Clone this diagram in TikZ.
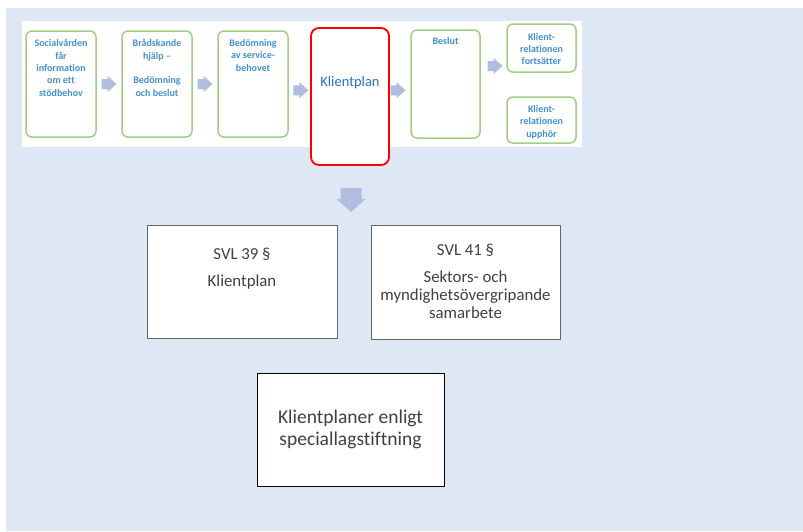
\documentclass[tikz,border=0pt]{standalone}
\usepackage{fontspec}
\setmainfont{Carlito}[Ligatures=NoCommon]
\usetikzlibrary{calc}
\definecolor{bgblue}{RGB}{222,232,244}
\definecolor{gborder}{RGB}{160,206,130}
\definecolor{stext}{RGB}{68,144,210}
\definecolor{ktext}{RGB}{40,116,190}
\definecolor{afill}{RGB}{176,188,224}
\definecolor{dtext}{RGB}{64,64,64}
\definecolor{sborder}{RGB}{100,104,110}
\tikzset{
  gbox/.style={draw=gborder, line width=1.5pt, rounded corners=6pt, fill=white, minimum width=70pt, inner sep=0pt},
  redbox/.style={draw=red, line width=1.8pt, rounded corners=8pt, fill=white, minimum width=78pt, minimum height=137pt, inner sep=0pt},
  smalltxt/.style={text=stext, font=\bfseries\fontsize{10}{12.4}\selectfont, align=center, inner sep=0pt},
  lawbox/.style={draw=sborder, line width=0.9pt, fill=white, inner sep=0pt},
  lawtxt/.style={text=dtext, font=\fontsize{16.8}{18}\selectfont, align=center, inner sep=0pt},
  rarrow/.pic={\fill[afill] (-7.5,-5) -- (-1.5,-5) -- (-1.5,-8) -- (7.5,0) -- (-1.5,8) -- (-1.5,5) -- (-7.5,5) -- cycle;},
  darrow/.pic={\fill[afill] (-10.5,-12) -- (10.5,-12) -- (10.5,-1) -- (14.5,-1) -- (0,12) -- (-14.5,-1) -- (-10.5,-1) -- cycle;}
}
\begin{document}
\begin{tikzpicture}[x=1pt,y=-1pt]
\useasboundingbox (0,0) rectangle (803,531);
\fill[bgblue] (6,8) rectangle (803,531);
\fill[white] (22,21) rectangle (582,147);
% process boxes
\node[gbox, minimum height=106pt] (b1) at (61,84) {};
\node[gbox, minimum height=106pt] (b2) at (157,84) {};
\node[gbox, minimum height=106pt] (b3) at (253,84) {};
\node[redbox] (kp) at (350,96.5) {};
\node[gbox, minimum width=69pt, minimum height=108pt] (bes) at (445.5,84) {};
\node[gbox, minimum width=69pt, minimum height=48pt] (fort) at (541.5,48) {};
\node[gbox, minimum width=69pt, minimum height=46pt] (upph) at (541.5,120) {};
% texts
\node[smalltxt, anchor=north] (t1) at ($(b1.north)+(0,9)$) {Socialvården\\får\\information\\om ett\\stödbehov};
\node[smalltxt, anchor=north] (t2) at ($(b2.north)+(0,9)$) {Brådskande\\hjälp --\\[12.4pt]Bedömning\\och beslut};
\node[smalltxt, anchor=north] (t3) at ($(b3.north)+(0,9)$) {Bedömning\\av service-\\behovet};
\node[text=ktext, font=\fontsize{14.5}{17}\selectfont, inner sep=0pt] (t4) at (350,83) {Klientplan};
\node[smalltxt, anchor=north] (t5) at ($(bes.north)+(0,8)$) {Beslut};
\node[smalltxt] (t6) at ($(fort.center)+(0,1)$) {Klient-\\relationen\\fortsätter};
\node[smalltxt] (t7) at ($(upph.center)+(0,2)$) {Klient-\\relationen\\upphör};
% arrows
\pic at ($(b1.east)!0.5!(b2.west)$ |- 0,85) {rarrow};
\pic at ($(b2.east)!0.5!(b3.west)$ |- 0,85) {rarrow};
\pic at ($(b3.east)!0.5!(kp.west)+(1.5,0)$ |- 0,85) {rarrow};
\pic at ($(kp.east)!0.5!(bes.west)+(-2,0)$ |- 0,85) {rarrow};
\pic at ($(bes.east)!0.5!(fort.west)+(1.5,0)$ |- 0,85) {rarrow};
% lower part
\node[lawbox, minimum width=190pt, minimum height=113pt] (s39) at (242,281.5) {};
\node[lawbox, minimum width=189pt, minimum height=114pt] (s41) at (465.5,282) {};
\node[draw=black, line width=0.8pt, fill=white, inner sep=0pt, minimum width=187pt, minimum height=113pt] (spec) at (350.5,429.5) {};
\pic at (351,200) {darrow};
\node[lawtxt] (s39t) at ($(s39.center)+(0,-13)$) {SVL 39 §\\[9pt]Klientplan};
\node[lawtxt] (s41t) at ($(s41.center)+(0,-0.5)$) {SVL 41 §\\[9pt]Sektors- och\\myndighetsövergripande\\samarbete};
\node[text=dtext, font=\fontsize{19.5}{22}\selectfont, align=center, inner sep=0pt] (spect) at (spec.center) {Klientplaner enligt\\speciallagstiftning};
\end{tikzpicture}
\end{document}
